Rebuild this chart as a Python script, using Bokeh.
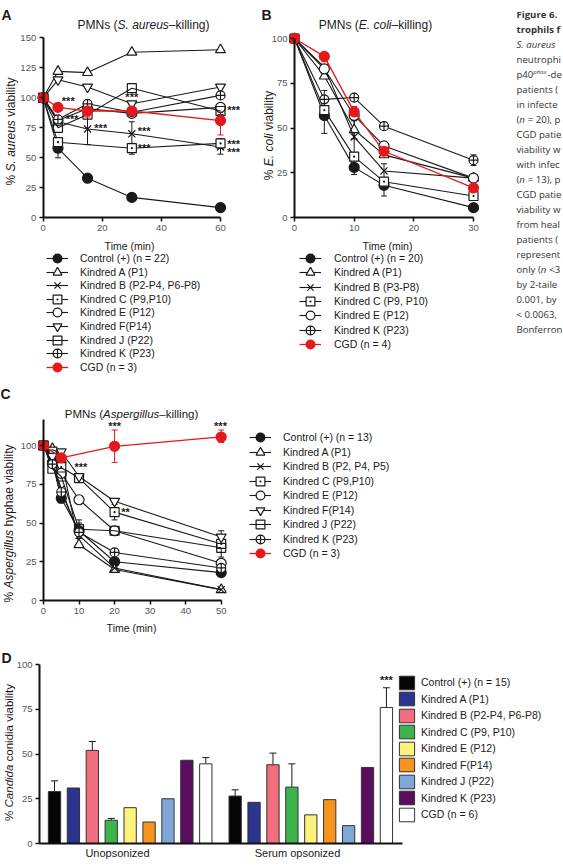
import math
from bokeh.plotting import figure
from bokeh.models import (Range1d, ColumnDataSource, Whisker, TeeHead,
                          Legend, LegendItem, Label)
from bokeh.layouts import row, column
from bokeh.embed import file_html
from bokeh.resources import INLINE

FONT = "Liberation Sans"
CAP_FONT = "Open Sans"
RED = "#e3191c"
INK = "#1a1a1a"
TICK = "#555555"

# ---------------- Panel A: PMNs (S. aureus killing) ----------------
A_time = [0, 5, 15, 30, 60]
A_time_C = [0, 5, 30, 60]
A_control = [100, 58, 33, 17, 8.5]
A_kindred_A = [100, 122, 121, 138, 140]
A_kindred_B = [100, 80, 74, 70, 59]
A_kindred_C = [100, 63, 58, 62]
A_kindred_E = [100, 81, 91, 87, 92]
A_kindred_F = [100, 115, 109, 95, 109]
A_kindred_J = [100, 75, 86, 108, 89]
A_kindred_K = [100, 82, 95, 88, 102]
A_cgd = [100, 92, 89, 89, 81]
A_labels = ["Control (+) (n = 22)", "Kindred A (P1)", "Kindred B (P2-P4, P6-P8)",
            "Kindred C (P9,P10)", "Kindred E (P12)", "Kindred F(P14)",
            "Kindred J (P22)", "Kindred K (P23)", "CGD (n = 3)"]
A_err_t = [5, 15, 30, 60, 30, 60, 60]
A_err_lo = [50, 61, 60, 53, 53, 58, 86]
A_err_hi = [62, 87, 80, 65, 62, 66, 93]
A_err_red_t = [15, 30, 60]
A_err_red_lo = [84, 84, 69]
A_err_red_hi = [93, 95, 88]
A_star_x = [6.3, 7.6, 17.3, 27.8, 32.0, 32.0, 62.3, 62.3, 62.3]
A_star_y = [97.5, 82, 75, 101, 72, 58.5, 89.5, 61.5, 55]

# ---------------- Panel B: PMNs (E. coli killing) ----------------
B_time = [0, 5, 10, 15, 30]
B_control = [100, 57, 28, 18, 5.5]
B_kindred_A = [100, 79, 49, 35, 22]
B_kindred_B = [100, 84, 45, 26, 22]
B_kindred_C = [100, 60, 34, 20, 12]
B_kindred_E = [100, 83, 57, 40, 22]
B_kindred_K = [100, 66, 67, 51, 32]
B_cgd = [100, 90, 59, 37, 16.5]
B_labels = ["Control (+) (n = 20)", "Kindred A (P1)", "Kindred B (P3-P8)",
            "Kindred C (P9, P10)", "Kindred E (P12)", "Kindred K (P23)", "CGD (n = 4)"]
B_err_t = [5, 5, 10, 10, 10, 15, 15, 30]
B_err_lo = [47, 60, 24, 36, 44, 12, 22, 29]
B_err_hi = [65, 71, 32, 56, 54, 22, 30, 35]
B_err_red_t = [5, 10]
B_err_red_lo = [87, 56]
B_err_red_hi = [92, 62]

# ---------------- Panel C: PMNs (Aspergillus killing) ----------------
C_time = [0, 2.5, 5, 10, 20, 50]
C_time_cgd = [0, 5, 20, 50]
C_control = [100, 89, 66, 45, 25, 18]
C_kindred_A = [100, 98, 91, 36, 20, 7]
C_kindred_B = [100, 90, 72, 42, 21, 7]
C_kindred_C = [100, 96, 86, 79, 57, 36.5]
C_kindred_E = [100, 94, 82, 65, 45, 24]
C_kindred_F = [100, 93, 96, 80, 64, 41]
C_kindred_J = [100, 85, 80, 46, 45, 34]
C_kindred_K = [100, 88, 70, 44, 31, 21]
C_cgd = [100, 92, 99.5, 105.5]
C_labels = ["Control (+) (n = 13)", "Kindred A (P1)", "Kindred B (P2, P4, P5)",
            "Kindred C (P9,P10)", "Kindred E (P12)", "Kindred F(P14)",
            "Kindred J (P22)", "Kindred K (P23)", "CGD (n = 3)"]
C_err_t = [5, 10, 10, 20, 50, 50]
C_err_lo = [63, 40, 42, 52, 28, 38]
C_err_hi = [70, 50, 52, 62, 42, 45]
C_err_red_t = [20, 50]
C_err_red_lo = [89, 102]
C_err_red_hi = [110, 110]
C_star_x = [20, 49.8, 10.5]
C_star_y = [112.5, 112.5, 86]
C_star2_x = [21.9]
C_star2_y = [57]

# ---------------- Panel D: Candida conidia viability ----------------
D_groups = ["Unopsonized", "Serum opsonized"]
D_keys = ["Control", "A", "B", "C", "E", "F", "J", "K", "CGD"]
D_labels = ["Control (+) (n = 15)", "Kindred A (P1)", "Kindred B (P2-P4, P6-P8)",
            "Kindred C (P9, P10)", "Kindred E (P12)", "Kindred F(P14)",
            "Kindred J (P22)", "Kindred K (P23)", "CGD (n = 6)"]
D_unopsonized = [29, 31, 52, 13, 20, 12, 25, 46.5, 44.5]
D_serum = [26.5, 23, 44, 31.5, 16, 24.5, 10, 42.5, 76]
D_err_keys = ["Control", "B", "C", "CGD"]
D_unop_err_hi = [35, 57, 14, 48]
D_serum_err_hi = [30, 50.5, 44.5, 87]
D_colors = ["#050505", "#2b3590", "#f26d7d", "#3cb44b", "#fdf27a",
            "#f7941d", "#7ea7d8", "#5a0d5c", "#ffffff"]

CAPTION = [
    [("Figure 6.", "bold")],
    [("trophils f", "bold")],
    [("S. aureus", "italic")],
    [("neutrophi", "normal")],
    [("p40", "normal"), ("phox", "sup"), ("-de", "normal")],
    [("patients (", "normal")],
    [("in infecte", "normal")],
    [("(", "normal"), ("n", "italic"), (" = 20), p", "normal")],
    [("CGD patie", "normal")],
    [("viability w", "normal")],
    [("with infec", "normal")],
    [("(", "normal"), ("n", "italic"), (" = 13), p", "normal")],
    [("CGD patie", "normal")],
    [("viability w", "normal")],
    [("from heal", "normal")],
    [("patients (", "normal")],
    [("represent", "normal")],
    [("only (", "normal"), ("n", "italic"), (" <3", "normal")],
    [("by 2-taile", "normal")],
    [("0.001, by", "normal")],
    [("< 0.0063,", "normal")],
    [("Bonferron", "normal")],
]

# ---------------- helpers ----------------
AW = {' ': 278, '!': 278, '%': 889, '(': 333, ')': 333, '+': 584, ',': 278, '-': 333,
      '.': 278, '/': 278, '=': 584, '<': 584, ':': 278, '–': 556, '*': 389,
      'A': 667, 'B': 667, 'C': 722, 'D': 722, 'E': 667, 'F': 611, 'G': 778, 'H': 722,
      'I': 278, 'J': 500, 'K': 667, 'L': 556, 'M': 833, 'N': 722, 'O': 778, 'P': 667,
      'Q': 778, 'R': 722, 'S': 667, 'T': 611, 'U': 722, 'V': 667, 'W': 944, 'X': 667,
      'Y': 667, 'Z': 611, 'a': 556, 'b': 556, 'c': 500, 'd': 556, 'e': 556, 'f': 278,
      'g': 556, 'h': 556, 'i': 222, 'j': 222, 'k': 500, 'l': 222, 'm': 833, 'n': 556,
      'o': 556, 'p': 556, 'q': 556, 'r': 333, 's': 500, 't': 278, 'u': 556, 'v': 500,
      'w': 722, 'x': 500, 'y': 500, 'z': 500}
for _d in "0123456789":
    AW[_d] = 556

# approximate Open Sans advance widths (em) for the caption strip
OSW = {'a': .556, 'b': .613, 'c': .480, 'd': .613, 'e': .561, 'f': .336, 'g': .546,
       'h': .613, 'i': .258, 'k': .529, 'l': .258, 'n': .613, 'o': .602, 'p': .613,
       'r': .408, 's': .479, 't': .353, 'u': .613, 'v': .501, 'w': .778, 'x': .523,
       'y': .501, ' ': .26, '(': .296, ')': .296, '=': .571, '<': .571, ',': .245,
       '.': .266, '-': .322, 'C': .632, 'G': .698, 'D': .729, 'P': .603, 'B': .647}
for _d in "0123456789":
    OSW[_d] = .572


def tw(s, size):
    return sum(AW.get(c, 556) for c in s) * size / 1000.0


class Panel:
    """A figure whose frame fills its whole canvas; axes sit at fixed data locations."""

    def __init__(self, ox, oy, W, H, px0, kx, py0, ky):
        self.ox, self.oy, self.W, self.H = ox, oy, W, H
        self.px0, self.kx, self.py0, self.ky = px0, kx, py0, ky
        xr = Range1d((ox - px0) / kx, (ox + W - px0) / kx)
        yr = Range1d((py0 - (oy + H)) / ky, (py0 - oy) / ky)
        p = figure(frame_width=W, frame_height=H, min_border=0, x_range=xr, y_range=yr,
                   output_backend="svg", toolbar_location=None, tools="")
        p.title.visible = False
        p.grid.visible = False
        p.outline_line_color = None
        p.background_fill_color = "white"
        p.border_fill_color = "white"
        self.p = p

    def conv(self, X, Y):
        return (X - self.px0) / self.kx, (self.py0 - Y) / self.ky

    def axes(self, x_bounds, y_bounds, y_loc=0):
        p = self.p
        p.xaxis.fixed_location = 0
        p.yaxis.fixed_location = y_loc
        p.xaxis.bounds = x_bounds
        p.yaxis.bounds = y_bounds
        for ax in p.axis:
            ax.axis_line_width = 2
            ax.axis_line_color = "#111111"
            ax.major_tick_line_width = 1.5
            ax.major_tick_line_color = "#111111"
            ax.major_tick_out = 4
            ax.major_tick_in = 0
            ax.minor_tick_line_color = None
            ax.major_label_text_font = FONT
            ax.major_label_text_font_size = "9.5px"
            ax.major_label_text_color = TICK
            ax.major_label_standoff = 3

    def text(self, X, Y, text, size, style="normal", align="center"):
        x, y = self.conv(X, Y)
        self.p.add_layout(Label(x=x, y=y, text=text, text_font=FONT,
                                text_font_size=f"{size}px", text_font_style=style,
                                text_color=INK, text_align=align, text_baseline="middle"))

    def runs(self, X, Y, parts, size, vertical=False):
        total = sum(tw(t, size) for t, _ in parts)
        sign = -1 if vertical else 1
        cur = (Y + total / 2) if vertical else (X - total / 2)
        for t, style in parts:
            lead = len(t) - len(t.lstrip(' '))
            pos = cur + sign * lead * 278 * size / 1000.0
            x, y = self.conv(X, pos) if vertical else self.conv(pos, Y)
            self.p.add_layout(Label(x=x, y=y, text=t.strip(' '),
                                    angle=(math.pi / 2 if vertical else 0),
                                    text_font=FONT, text_font_size=f"{size}px",
                                    text_font_style=style, text_color=INK,
                                    text_align="left", text_baseline="middle"))
            cur += sign * tw(t, size)

    def legends(self, labels, rens, gx, centers, gw, gh, standoff):
        # one single-entry legend per row; gx and centers in page pixels
        for lab, rr, c in zip(labels, rens, centers):
            self.p.add_layout(Legend(
                items=[LegendItem(label=lab, renderers=rr)],
                location=(gx - self.ox, self.oy + self.H - c - gh / 2),
                glyph_width=gw, glyph_height=gh, label_height=gh, spacing=0,
                padding=0, margin=0, label_standoff=standoff, border_line_color=None,
                background_fill_alpha=0, label_text_font=FONT,
                label_text_font_size="10.5px", label_text_color=INK,
                label_text_baseline="middle"))


STYLES = {
    "control": dict(marker="circle", fill_color=INK, line_color=INK, size=10),
    "A": dict(marker="triangle", fill_color="white", line_color=INK, size=10),
    "B": dict(marker="x", fill_color=None, line_color=INK, size=10),
    "C": dict(marker="square_dot", fill_color="white", line_color=INK, size=9),
    "E": dict(marker="circle", fill_color="white", line_color=INK, size=10),
    "F": dict(marker="inverted_triangle", fill_color="white", line_color=INK, size=10),
    "J": dict(marker="square", fill_color=None, line_color=INK, size=9),
    "K": dict(marker="circle_cross", fill_color="white", line_color=INK, size=9),
    "cgd": dict(marker="circle", fill_color=RED, line_color=RED, size=10),
}


def series(p, t, v, key):
    st = STYLES[key]
    lc = st["line_color"]
    ln = p.line(t, v, line_color=lc, line_width=1.3 if key == "cgd" else 1.1)
    sc = p.scatter(t, v, marker=st["marker"], size=st["size"], line_color=lc,
                   fill_color=st["fill_color"], line_width=1.2)
    return [ln, sc]


def errors(p, t, lo, hi, color):
    src = ColumnDataSource(dict(t=t, lo=lo, hi=hi))
    p.add_layout(Whisker(base="t", lower="lo", upper="hi", source=src, line_color=color,
                         line_width=1, upper_head=TeeHead(size=6, line_color=color, line_width=1),
                         lower_head=TeeHead(size=6, line_color=color, line_width=1)))


def stars(p, xs, ys, text="***", align="left"):
    for x, y in zip(xs, ys):
        p.add_layout(Label(x=x, y=y, text=text, text_font=FONT, text_font_size="11px",
                           text_font_style="bold", text_color=INK,
                           text_align=align, text_baseline="middle"))


# ================= Panel A  (page x 0-240, y 0-380) =================
A = Panel(0, 0, 240, 380, 42.7, 2.955, 217.3, 1.2)
A.axes((0, 60), (0, 150))
pA = A.p
pA.xaxis.ticker = [0, 20, 40, 60]
pA.yaxis.ticker = [0, 25, 50, 75, 100, 125, 150]
errors(pA, A_err_t, A_err_lo, A_err_hi, INK)
errors(pA, A_err_red_t, A_err_red_lo, A_err_red_hi, RED)
A_rens = [series(pA, t, v, k) for t, v, k in [
    (A_time, A_control, "control"), (A_time, A_kindred_A, "A"),
    (A_time, A_kindred_B, "B"), (A_time_C, A_kindred_C, "C"),
    (A_time, A_kindred_E, "E"), (A_time, A_kindred_F, "F"),
    (A_time, A_kindred_J, "J"), (A_time, A_kindred_K, "K"),
    (A_time, A_cgd, "cgd")]]
stars(pA, A_star_x, A_star_y)
A.text(6, 14, "A", 14, "bold")
A.runs(143, 24, [("PMNs (", "normal"), ("S. aureus", "italic"), ("–killing)", "normal")], 12)
A.runs(10, 131, [("% ", "normal"), ("S. aureus", "italic"), (" viability", "normal")], 12, vertical=True)
A.text(129, 245, "Time (min)", 10.5)
A.legends(A_labels, A_rens, 46, [258 + 13.6 * i for i in range(9)], 22, 24, 12)

# ================= Panel B  (page x 240-503, y 0-380) =================
B = Panel(240, 0, 263, 380, 294, 5.967, 217, 1.79)
B.axes((0, 30), (0, 100))
pB = B.p
pB.xaxis.ticker = [0, 10, 20, 30]
pB.yaxis.ticker = [0, 25, 50, 75, 100]
errors(pB, B_err_t, B_err_lo, B_err_hi, INK)
errors(pB, B_err_red_t, B_err_red_lo, B_err_red_hi, RED)
B_keys = ["control", "A", "B", "C", "E", "K", "cgd"]
B_rens = [series(pB, B_time, v, k) for v, k in zip(
    [B_control, B_kindred_A, B_kindred_B, B_kindred_C, B_kindred_E, B_kindred_K, B_cgd], B_keys)]
B.text(266, 14, "B", 14, "bold")
B.runs(375, 24, [("PMNs (", "normal"), ("E. coli", "italic"), ("–killing)", "normal")], 12)
B.runs(268, 135, [("% ", "normal"), ("E. coli", "italic"), (" viability", "normal")], 12, vertical=True)
B.text(387, 245, "Time (min)", 10.5)
B.legends(B_labels, B_rens, 299, [258 + 14.3 * i for i in range(7)], 22, 24, 13)

# ================= Caption strip (page x 503-563) =================
pCap = figure(frame_width=60, frame_height=380, min_border=0, x_range=Range1d(0, 60),
              y_range=Range1d(380, 0), x_axis_type=None, y_axis_type=None,
              output_backend="svg", toolbar_location=None, tools="")
pCap.title.visible = False
pCap.grid.visible = False
pCap.outline_line_color = None
CAP_SIZE = 9.6
for i, line in enumerate(CAPTION):
    x = 13.0
    y = 14 + 15 * i
    for txt, st in line:
        size = 6.0 if st == "sup" else CAP_SIZE
        lead = len(txt) - len(txt.lstrip(' '))
        x += lead * OSW[' '] * size
        t = txt.strip(' ')
        pCap.add_layout(Label(x=x, y=(y - 3 if st == "sup" else y), text=t,
                              text_font=CAP_FONT, text_font_size=f"{size}px",
                              text_font_style=("italic" if st in ("italic", "sup") else st),
                              text_color="#333333", text_align="left", text_baseline="middle"))
        x += sum(OSW.get(c, .55) for c in t) * size

# ================= Panel C  (page y 380-640) =================
C = Panel(0, 380, 563, 260, 43, 3.554, 600, 1.55)
C.axes((0, 50), (0, 116.8))
pC = C.p
pC.xaxis.ticker = [0, 10, 20, 30, 40, 50]
pC.yaxis.ticker = [0, 25, 50, 75, 100]
errors(pC, C_err_t, C_err_lo, C_err_hi, INK)
errors(pC, C_err_red_t, C_err_red_lo, C_err_red_hi, RED)
C_rens = [series(pC, t, v, k) for t, v, k in [
    (C_time, C_control, "control"), (C_time, C_kindred_A, "A"),
    (C_time, C_kindred_B, "B"), (C_time, C_kindred_C, "C"),
    (C_time, C_kindred_E, "E"), (C_time, C_kindred_F, "F"),
    (C_time, C_kindred_J, "J"), (C_time, C_kindred_K, "K"),
    (C_time_cgd, C_cgd, "cgd")]]
stars(pC, C_star_x, C_star_y, align="center")
stars(pC, C_star2_x, C_star2_y, text="**")
C.text(5, 393, "C", 14, "bold")
C.runs(131, 413, [("PMNs (", "normal"), ("Aspergillus", "italic"), ("–killing)", "normal")], 11.5)
C.runs(8, 523, [("% ", "normal"), ("Aspergillus", "italic"), (" hyphae viability", "normal")], 12, vertical=True)
C.text(131, 627, "Time (min)", 10.5)
C.legends(C_labels, C_rens, 249, [437 + 14.5 * i for i in range(9)], 22, 24, 12)

# ================= Panel D  (page y 640-866) =================
GP = 0.553          # gap between the two groups, in bar slots
D_slot = 18.91      # pixels per bar slot
D = Panel(0, 640, 563, 226, 54 - 0.5 * D_slot, D_slot, 843, 1.79)
pD = D.p
x_left = (39 - D.px0) / D_slot
x_right = (402 - D.px0) / D_slot
D.axes((x_left, x_right), (0, 100), y_loc=x_left)
pD.xaxis.ticker = []
pD.yaxis.ticker = [0, 25, 50, 75, 100]


def slot(gi, i):
    return gi * (len(D_keys) + GP) + i + 0.5


D_rens = []
for i, key in enumerate(D_keys):
    src = ColumnDataSource(dict(x=[slot(0, i), slot(1, i)],
                                top=[D_unopsonized[i], D_serum[i]]))
    D_rens.append([pD.vbar(x="x", top="top", width=0.65, source=src, fill_color=D_colors[i],
                           line_color="#333333", line_width=1)])
err_x = [slot(0, D_keys.index(k)) for k in D_err_keys] + [slot(1, D_keys.index(k)) for k in D_err_keys]
err_base = [D_unopsonized[D_keys.index(k)] for k in D_err_keys] + \
           [D_serum[D_keys.index(k)] for k in D_err_keys]
srcE = ColumnDataSource(dict(x=err_x, lo=err_base, hi=D_unop_err_hi + D_serum_err_hi))
pD.add_layout(Whisker(base="x", lower="lo", upper="hi", source=srcE, line_color=INK,
                      line_width=1, upper_head=TeeHead(size=7, line_color=INK, line_width=1),
                      lower_head=None))
pD.add_layout(Label(x=slot(1, 8), y=91.5, text="***", text_font=FONT, text_font_size="11px",
                    text_font_style="bold", text_color=INK, text_align="center",
                    text_baseline="middle"))
D.text(117, 852, "Unopsonized", 11)
D.text(297, 852, "Serum opsonized", 11)
D.text(6, 657, "D", 14, "bold")
D.runs(8, 752, [("% ", "normal"), ("Candida", "italic"), (" conidia viability", "normal")], 11.5, vertical=True)
D.legends(D_labels, D_rens, 397, [682 + 16.5 * i for i in range(9)], 19, 17, 5)

layout = column(row(pA, pB, pCap), pC, pD)
open("out.html", "w").write(file_html(layout, INLINE))
